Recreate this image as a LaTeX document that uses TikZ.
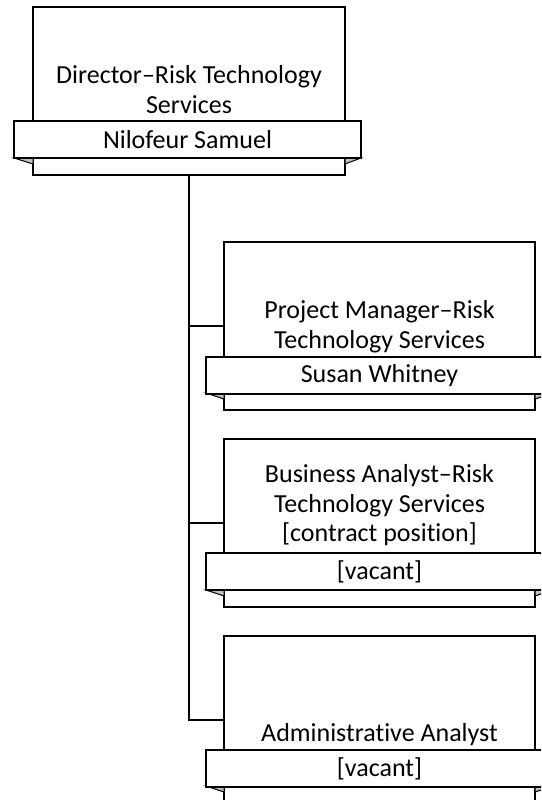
\documentclass[tikz,border=0pt]{standalone}
\usepackage{fontspec}
\setmainfont{Carlito}[Ligatures=NoCommon]
\usetikzlibrary{calc}
\begin{document}
\begin{tikzpicture}[x=1pt,y=-1pt,
  posbox/.style={draw=black, line width=1.5pt, fill=white, outer sep=0pt, inner sep=0pt,
    minimum width=#1, minimum height=168pt, anchor=north west},
  ribbon/.style={draw=black, line width=1.5pt, fill=white, outer sep=0pt, inner sep=0pt,
    minimum width=#1, minimum height=37pt, anchor=north west,
    font=\fontsize{26}{29.5}\selectfont},
  titletext/.style={inner sep=0pt, outer sep=0pt, align=center, anchor=base,
    font=\fontsize{26}{29.5}\selectfont},
  fold/.style={fill=black!25, draw=black, line width=1pt, line join=miter},
  conn/.style={draw=black, line width=2.5pt}
]
\useasboundingbox (0,0) rectangle (541,800);
\clip (0,0) rectangle (541,800);

% top position
\node[posbox=312pt] (d) at (33,7) {};
\node[titletext] (dt) at (189,113.3) {Director–Risk Technology\\Services};
\fill[fold] (14,158) -- (33,164) -- (33,158) -- cycle;
\fill[fold] (361,158) -- (345,164) -- (345,158) -- cycle;
\node[ribbon=347pt] (dn) at (14,121) {Nilofeur Samuel};

% child 1
\node[posbox=311pt] (c1) at (224,242) {};
\node[titletext] (c1t) at (379.5,348.3) {Project Manager–Risk\\Technology Services};
\fill[fold] (206,393) -- (224,399) -- (224,393) -- cycle;
\fill[fold] (553,393) -- (535,399) -- (535,393) -- cycle;
\node[ribbon=347pt] (c1n) at (206,357) {Susan Whitney};

% child 2
\node[posbox=311pt] (c2) at (224,439) {};
\node[titletext] (c2t) at (379.5,541.7) {Business Analyst–Risk\\Technology Services\\{}[contract position]};
\fill[fold] (206,590) -- (224,596) -- (224,590) -- cycle;
\fill[fold] (553,590) -- (535,596) -- (535,590) -- cycle;
\node[ribbon=347pt] (c2n) at (206,553) {[vacant]};

% child 3
\node[posbox=311pt] (c3) at (224,636) {};
\node[titletext] (c3t) at (379.5,741.7) {Administrative Analyst};
\fill[fold] (206,786) -- (224,792) -- (224,786) -- cycle;
\fill[fold] (553,786) -- (535,792) -- (535,786) -- cycle;
\node[ribbon=347pt] (c3n) at (206,750) {[vacant]};

% connectors
\draw[conn] (d.south) -- (d.south |- c3.west) -- (c3.west);
\draw[conn] (d.south |- c1.west) -- (c1.west);
\draw[conn] (d.south |- c2.west) -- (c2.west);
\end{tikzpicture}
\end{document}
